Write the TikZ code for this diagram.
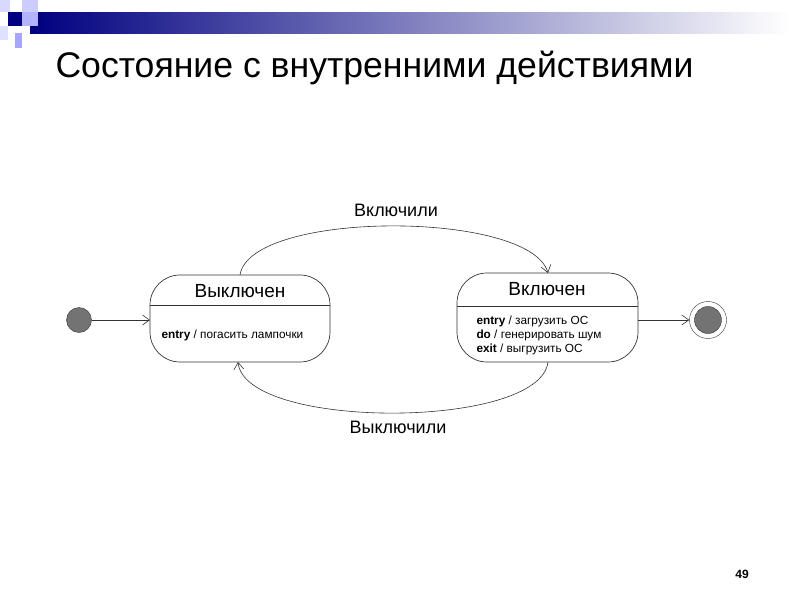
\documentclass[tikz,border=0pt]{standalone}
\usepackage{fontspec}
\setmainfont{Liberation Sans}
\usetikzlibrary{arrows.meta}
\begin{document}
\begin{tikzpicture}[x=1pt,y=-1pt,
  st/.style={draw=black!80,line width=0.7pt,rounded corners=30pt},
  ln/.style={draw=black!80,line width=0.6pt},
  ar/.style={ln,-{Straight Barb[length=7pt,width=10pt]}},
  big/.style={font=\fontsize{19}{22}\selectfont},
  small/.style={font=\fontsize{11.8}{14}\selectfont,align=left}]
\useasboundingbox (0,0) rectangle (800,600);
% decoration
\shade[left color=blue!50!black,right color=white] (30,12) rectangle (790,33);
\fill[blue!15!white] (0,0) rectangle (10,12);
\fill[blue!20!white] (22,0) rectangle (38,12);
\fill[blue!50!black] (8,12) rectangle (22,26);
\fill[blue!30!white] (22,12) rectangle (38,26);
\fill[blue!12!white] (0,26) rectangle (8,40);
\fill[blue!35!white] (15,33) rectangle (22,48);
\node[anchor=west,font=\fontsize{35.6}{40}\selectfont] (title) at (52,68) {Состояние с внутренними действиями};
% states
\draw[st] (150,275) rectangle (330,362);
\draw[ln] (150,305) -- (330,305);
\node[big] (off) at (240,291) {Выключен};
\node[small,anchor=west] (offa) at (158,335) {\textbf{entry} / погасить лампочки};
\draw[st] (457,273) rectangle (638,362);
\draw[ln] (457,306) -- (638,306);
\node[big] (on) at (547,289) {Включен};
\node[small,anchor=west] (ona) at (473,335) {\textbf{entry} / загрузить ОС\\\textbf{do} / генерировать шум\\\textbf{exit} / выгрузить ОС};
% initial/final
\node[circle,draw=black!80,fill=black!55,minimum size=25pt,inner sep=0pt] (init) at (79,320) {};
\node[circle,draw=black!80,minimum size=37pt,inner sep=0pt] (fin) at (708,320) {};
\node[circle,draw=black!80,fill=black!55,minimum size=27pt,inner sep=0pt] (finin) at (708,320) {};
\coordinate (offL) at (150,320);
\coordinate (onR) at (638,320);
\draw[ar] (init) -- (offL);
\draw[ar] (onR) -- (fin);
% transitions
\coordinate (t1) at (240,275);
\coordinate (t2) at (548,273);
\coordinate (b1) at (548,362);
\coordinate (b2) at (238,362);
\draw[ar] (t1) .. controls (250,210) and (530,210) .. (t2);
\draw[ar] (b1) .. controls (540,430) and (245,430) .. (b2);
\node[font=\fontsize{18}{21}\selectfont] (l1) at (396,210) {Включили};
\node[font=\fontsize{18}{21}\selectfont] (l2) at (398,427) {Выключили};
\node[font=\bfseries\fontsize{12}{14}\selectfont] (pg) at (742,574) {49};
\end{tikzpicture}
\end{document}
